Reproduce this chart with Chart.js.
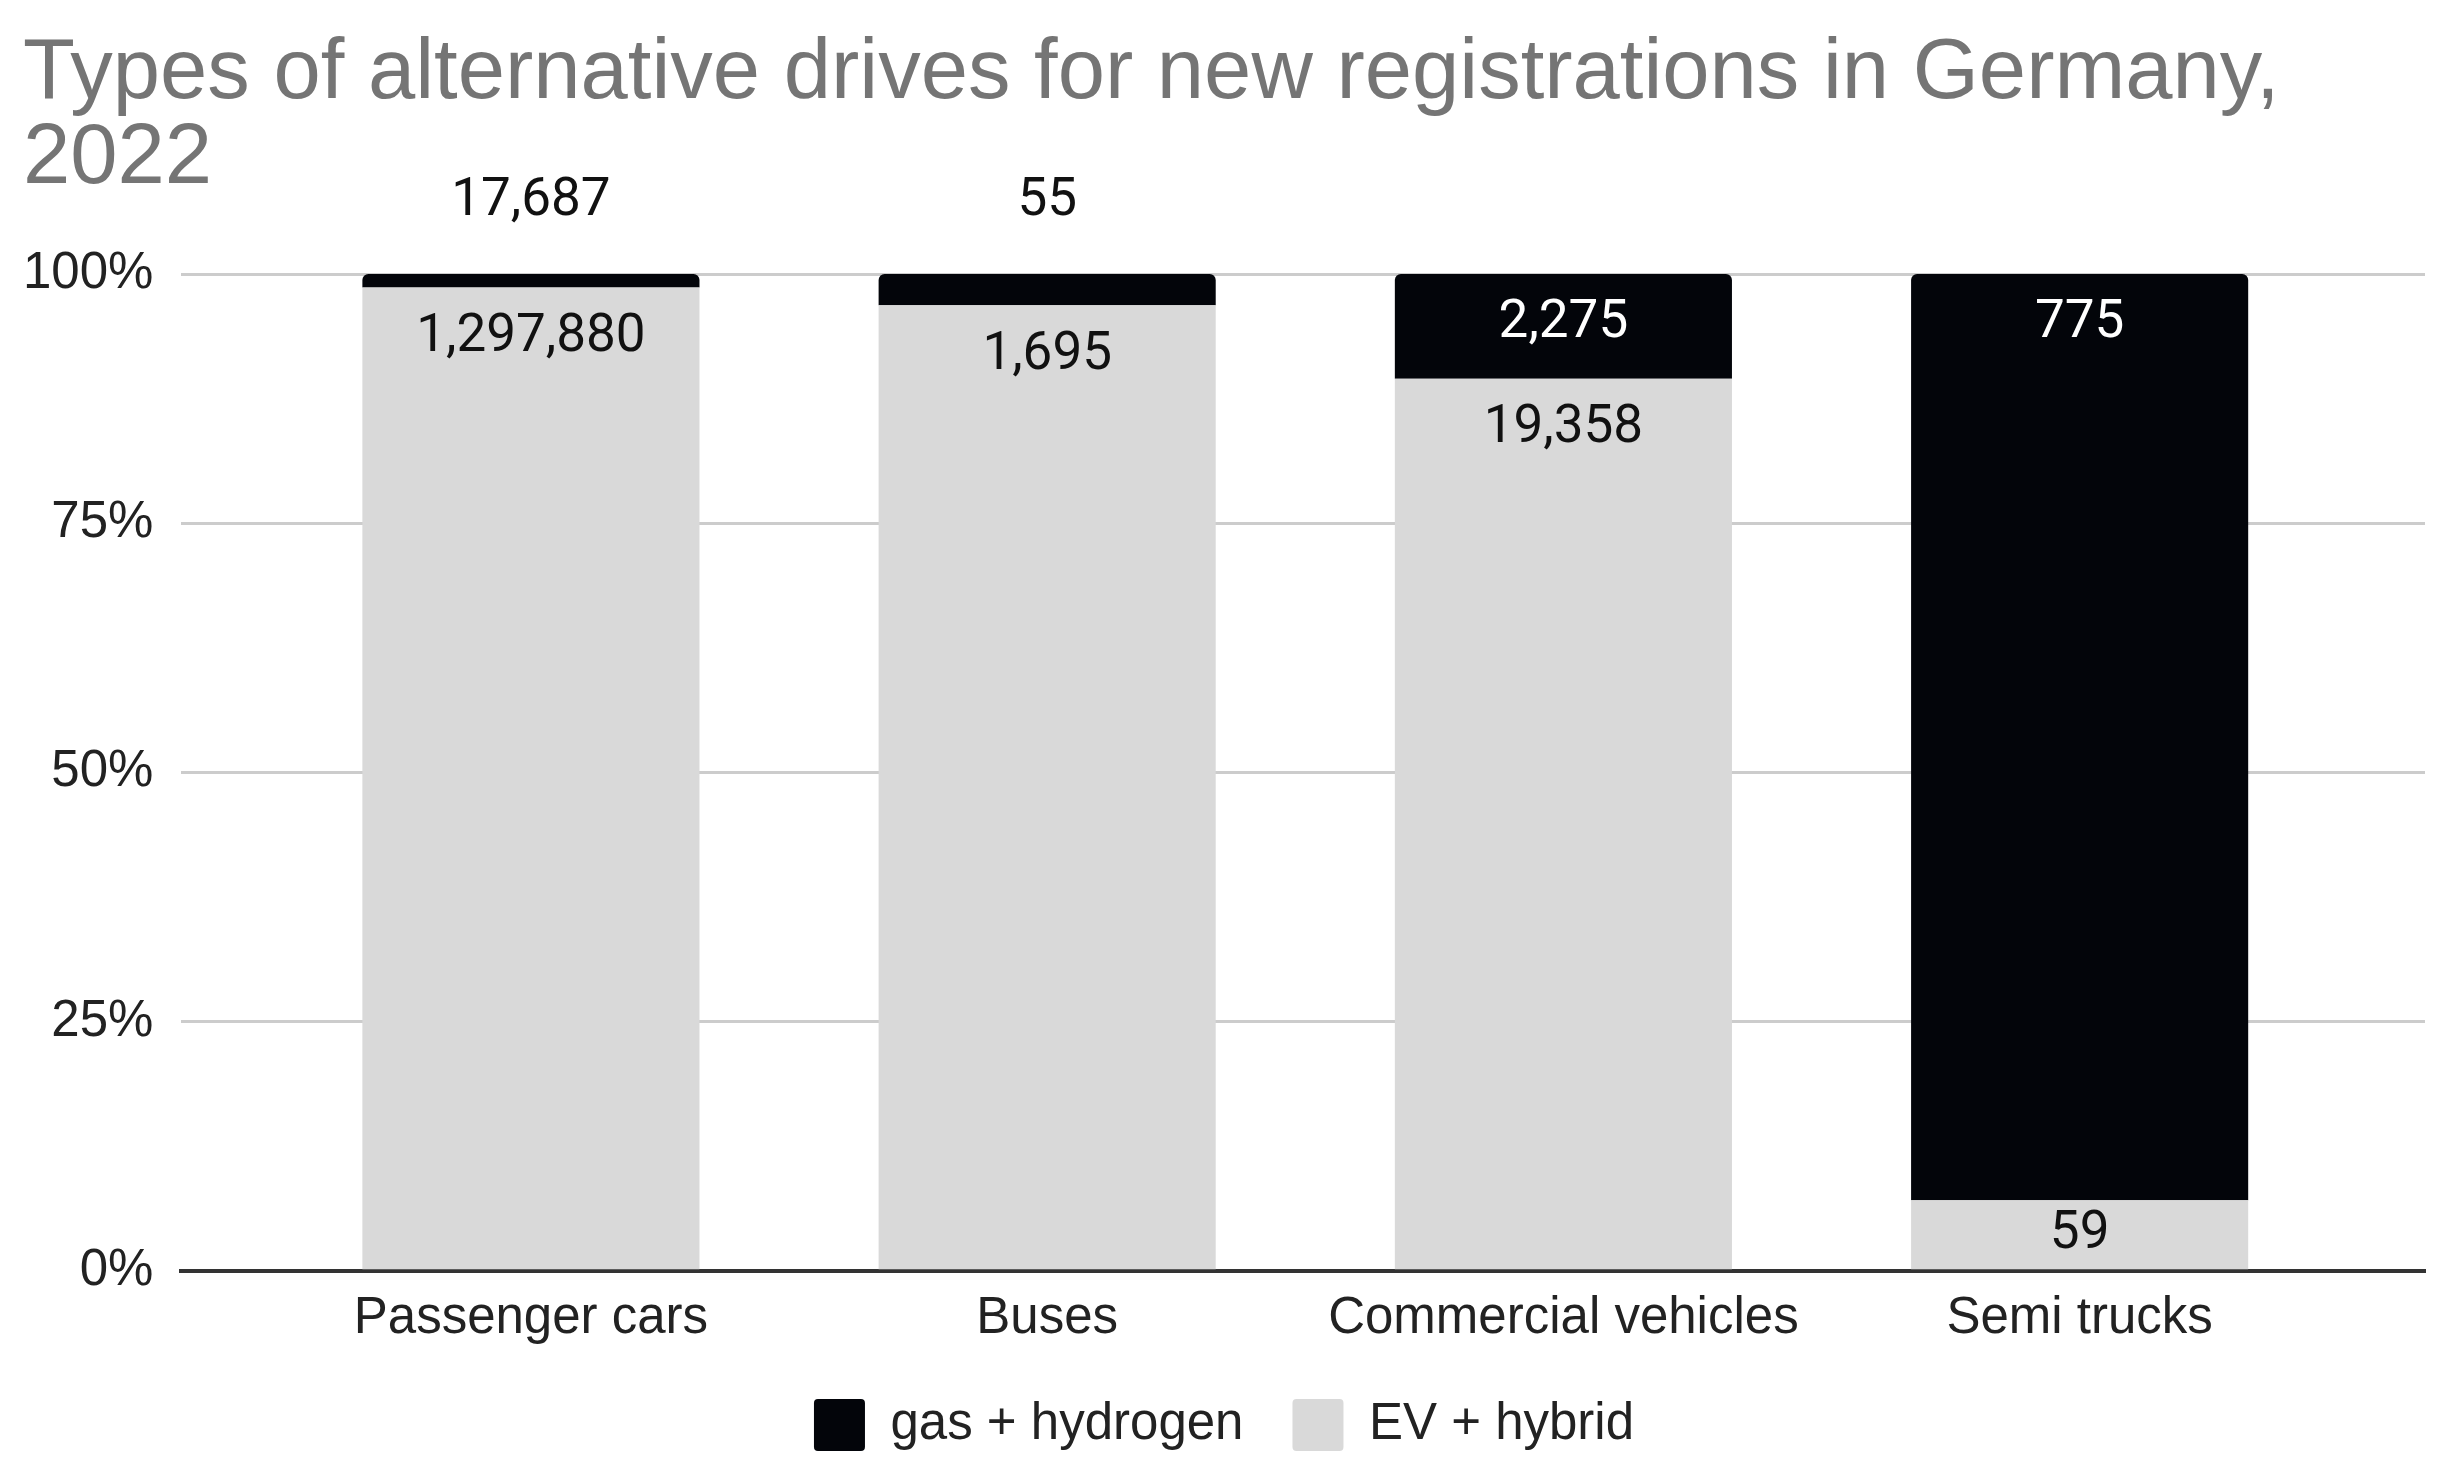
<!DOCTYPE html>
<html lang="en">
<head>
    <meta charset="UTF-8">
    <title>Types of alternative drives for new registrations in Germany, 2022</title>
    <script src="https://cdn.jsdelivr.net/npm/chart.js"></script>
    <style>
        html, body { margin: 0; padding: 0; background: #fff; }
        .wrap { width: 2456px; height: 1480px; position: relative; }
    </style>
</head>
<body>
    <div class="wrap"><canvas id="drives"></canvas></div>

    <script>
        const categories = ['Passenger cars', 'Buses', 'Commercial vehicles', 'Semi trucks'];
        const gasHydrogen = [17687, 55, 2275, 775];
        const evHybrid = [1297880, 1695, 19358, 59];
        const yTicks = [0, 25, 50, 75, 100];

        const totals = categories.map((c, i) => gasHydrogen[i] + evHybrid[i]);
        const toPct = (arr) => arr.map((v, i) => ({ x: i, y: v / totals[i] * 100 }));

        const BLACK = '#03050a';
        const GREY = '#d9d9d9';

        // value labels: inside near the top, or above the bar if the segment is too thin
        const valueLabels = {
            id: 'valueLabels',
            afterDatasetsDraw(chart) {
                const ctx = chart.ctx;
                ctx.save();
                ctx.font = '53px Roboto';
                ctx.textAlign = 'center';
                ctx.textBaseline = 'middle';
                chart.data.datasets.forEach((ds, di) => {
                    const meta = chart.getDatasetMeta(di);
                    meta.data.forEach((bar, i) => {
                        const h = bar.base - bar.y;
                        const text = ds.counts[i].toLocaleString('en-US');
                        ctx.fillStyle = '#111';
                        if (ds.dark && h < 60) {
                            ctx.fillText(text, bar.x, bar.y - 72);
                            return;
                        }
                        if (ds.dark) ctx.fillStyle = '#ffffff';
                        ctx.fillText(text, bar.x, bar.y + Math.min(50, h / 2));
                    });
                });
                ctx.restore();
            }
        };

        new Chart(document.getElementById('drives'), {
            type: 'bar',
            data: {
                datasets: [
                    { label: 'EV + hybrid', data: toPct(evHybrid), counts: evHybrid, dark: false,
                      backgroundColor: GREY, borderRadius: 6 },
                    { label: 'gas + hydrogen', data: toPct(gasHydrogen), counts: gasHydrogen, dark: true,
                      backgroundColor: BLACK, borderRadius: 6 }
                ]
            },
            options: {
                responsive: true,
                maintainAspectRatio: false,
                animation: false,
                categoryPercentage: 1,
                barPercentage: 0.653,
                layout: { padding: { left: 23, right: 31, top: 32, bottom: 19 } },
                plugins: {
                    title: {
                        display: true,
                        text: ['Types of alternative drives for new registrations in Germany,', '2022'],
                        align: 'start',
                        color: '#757575',
                        font: { family: 'Liberation Sans', size: 85, weight: 'normal', lineHeight: 1.0 },
                        padding: { top: 0, bottom: 72 }
                    },
                    legend: {
                        position: 'bottom',
                        reverse: true,
                        labels: {
                            color: '#222',
                            font: { family: 'Liberation Sans', size: 51 },
                            boxWidth: 51,
                            boxHeight: 52,
                            useBorderRadius: true,
                            borderRadius: 4,
                            padding: 49
                        }
                    },
                    tooltip: { enabled: false }
                },
                scales: {
                    x: {
                        type: 'linear',
                        stacked: true,
                        offset: false,
                        min: -0.677,
                        max: 3.669,
                        z: 1,
                        grid: { display: false, drawTicks: false },
                        border: { display: true, color: '#333', width: 4 },
                        afterBuildTicks: (axis) => { axis.ticks = categories.map((c, i) => ({ value: i })); },
                        afterFit: (axis) => { axis.height -= axis.options.ticks.padding; },
                        ticks: {
                            autoSkip: false,
                            maxRotation: 0,
                            padding: 18,
                            color: '#222',
                            font: { family: 'Liberation Sans', size: 51 },
                            callback: (v) => categories[v]
                        }
                    },
                    y: {
                        stacked: true,
                        min: 0,
                        max: 100,
                        afterBuildTicks: (axis) => { axis.ticks = yTicks.map(v => ({ value: v })); },
                        afterFit: (axis) => { axis.width -= axis.options.ticks.padding; },
                        grid: {
                            drawTicks: false,
                            lineWidth: 3,
                            color: (c) => c.tick && c.tick.value === 0 ? 'rgba(0,0,0,0)' : '#cccccc'
                        },
                        border: { display: false },
                        ticks: {
                            padding: 28,
                            color: '#222',
                            font: { family: 'Liberation Sans', size: 51 },
                            callback: (v) => v + '%'
                        }
                    }
                }
            },
            plugins: [valueLabels]
        });
    </script>
</body>
</html>
